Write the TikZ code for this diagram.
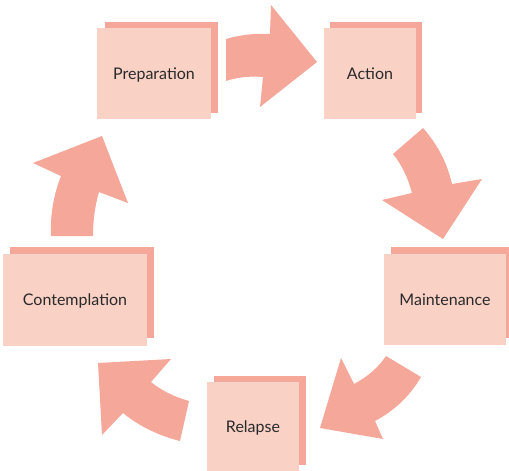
\documentclass[tikz,border=0pt]{standalone}
\usepackage{fontspec}
\setmainfont{Lato}
\definecolor{frontfill}{HTML}{F9D1C5}
\definecolor{arrowfill}{HTML}{F5A799}
\definecolor{txt}{HTML}{2A2A2A}
\begin{document}
\begin{tikzpicture}[x=1pt,y=-1pt,
  frontbox/.style={fill=frontfill, draw=none, inner sep=0pt, minimum height=91pt, text=txt, text height=11pt, text depth=0pt, font=\fontsize{16}{19}\selectfont},
  backbox/.style={fill=arrowfill, draw=none, inner sep=0pt, minimum height=91pt},
  cyclearrow/.style={fill=arrowfill, draw=none}]
\useasboundingbox (0,0) rectangle (509,471);
% back boxes
\node[backbox, minimum width=113pt] (prepB) at (161.5,67.5) {};
\node[backbox, minimum width=92pt] (actB) at (376,67.5) {};
\node[backbox, minimum width=118pt] (mainB) at (450,292.5) {};
\node[backbox, minimum width=144pt] (contB) at (82,292.5) {};
\node[backbox, minimum width=92pt, minimum height=89pt] (relB) at (260,420.5) {};
% front boxes
\node[frontbox, minimum width=114pt] (prep) at (154,73.5) {Preparation};
\node[frontbox, minimum width=92pt] (act) at (370,73.5) {Action};
\node[frontbox, minimum width=122pt] (main) at (445,299.5) {Maintenance};
\node[frontbox, minimum width=144pt, minimum height=92pt] (cont) at (75,300) {Contemplation};
\node[frontbox, minimum width=92pt, minimum height=89pt] (rel) at (253,426.5) {Relapse};
% arrows
\fill[cyclearrow] (226,39) .. controls (240,35) and (255,33) .. (270,34) -- (271,5) -- (317,62) -- (260,107) -- (263,77) .. controls (250,76) and (238,77) .. (226,81) -- cycle;
\fill[cyclearrow] (393,154) -- (423,128) .. controls (437,144) and (447,162) .. (452,184) -- (482,179) -- (443,239) -- (382,200) -- (412,193) .. controls (408,178) and (402,165) .. (393,154) -- cycle;
\fill[cyclearrow] (386,356) -- (421,377) .. controls (410,396) and (394,411) .. (375,421) -- (383,439) -- (320,428) -- (341,358) -- (354,384) .. controls (367,377) and (378,368) .. (386,356) -- cycle;
\fill[cyclearrow] (189,401) -- (180,441) .. controls (160,436) and (140,427) .. (123,413) -- (102,435) -- (98,363) -- (171,359) -- (151,382) .. controls (162,391) and (175,397) .. (189,401) -- cycle;
\fill[cyclearrow] (51,236) .. controls (50,214) and (54,194) .. (61,176) -- (33,163) -- (102,136) -- (128,203) -- (99,192) .. controls (95,206) and (93,220) .. (93,236) -- cycle;
\end{tikzpicture}
\end{document}
